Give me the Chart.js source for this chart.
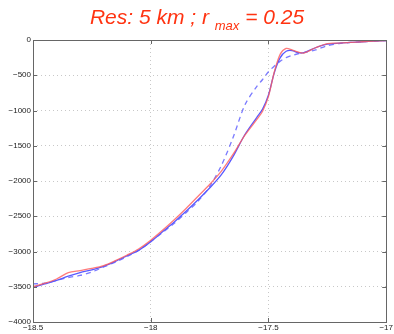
<!DOCTYPE html>
<html><head><meta charset="utf-8">
<script src="https://cdn.jsdelivr.net/npm/chart.js@4/dist/chart.umd.min.js"></script>
<style>
html,body{margin:0;padding:0;background:#fff;}
#wrap{position:relative;width:394px;height:334px;}
#title{position:absolute;left:0;top:4px;width:394px;text-align:center;font-family:"Liberation Sans",Arial,sans-serif;font-style:italic;font-size:21px;color:#ff3311;line-height:26px;}
#title sub{font-size:13px;vertical-align:-6px;}
canvas{position:absolute;left:0;top:0;}
</style></head>
<body><div id="wrap"><canvas id="c" width="394" height="334"></canvas><div id="title">Res: 5 km ; r <sub>max</sub> = 0.25</div></div>
<script>
const lon = [-18.5,-18.45,-18.4,-18.35,-18.3,-18.25,-18.2,-18.15,-18.1,-18.05,-18.0,-17.95,-17.9,-17.85,-17.8,-17.75,-17.7,-17.65,-17.6,-17.55,-17.525,-17.5,-17.475,-17.45,-17.425,-17.4,-17.375,-17.35,-17.3,-17.25,-17.2,-17.15,-17.1,-17.05,-17.0];
const redDepth = [-3500,-3450,-3390,-3300,-3270,-3240,-3200,-3130,-3050,-2960,-2840,-2700,-2550,-2390,-2220,-2050,-1860,-1620,-1350,-1130,-1010,-800,-450,-200,-120,-140,-170,-185,-110,-50,-45,-35,-25,-15,-8];
const blueDepth = [-3510,-3460,-3410,-3350,-3300,-3260,-3210,-3140,-3060,-2980,-2860,-2720,-2580,-2430,-2270,-2100,-1910,-1650,-1340,-1100,-980,-780,-460,-250,-160,-150,-180,-180,-110,-60,-45,-35,-25,-15,-8];
const dashDepth = [-3460,-3450,-3410,-3370,-3340,-3290,-3220,-3150,-3070,-2980,-2860,-2730,-2600,-2450,-2290,-2080,-1780,-1380,-920,-660,-560,-450,-370,-300,-250,-220,-195,-180,-140,-80,-50,-35,-25,-15,-8];
const xTicks = [-18.5,-18,-17.5,-17];
const yTicks = [0,-500,-1000,-1500,-2000,-2500,-3000,-3500,-4000];

const pts = arr => arr.map((v,i)=>({x:lon[i],y:v}));
const fmt = v => (v<0?'\u2212':'')+Math.abs(v);

const frame = {
  id:'frame',
  afterDraw(chart){
    const {ctx, chartArea:a, scales:{x,y}} = chart;
    ctx.save();
    ctx.strokeStyle='#666'; ctx.lineWidth=1;
    ctx.strokeRect(Math.round(a.left)+0.5, Math.round(a.top)+0.5, Math.round(a.right-a.left), Math.round(a.bottom-a.top));
    ctx.beginPath();
    xTicks.forEach(t=>{const px=Math.round(x.getPixelForValue(t))+0.5;
      ctx.moveTo(px,a.top);ctx.lineTo(px,a.top+4);ctx.moveTo(px,a.bottom);ctx.lineTo(px,a.bottom-4);});
    yTicks.forEach(t=>{const py=Math.round(y.getPixelForValue(t))+0.5;
      ctx.moveTo(a.left,py);ctx.lineTo(a.left+4,py);ctx.moveTo(a.right,py);ctx.lineTo(a.right-4,py);});
    ctx.stroke();
    ctx.restore();
  }
};

new Chart(document.getElementById('c'), {
  type:'line',
  data:{datasets:[
    {data:pts(redDepth), borderColor:'rgba(255,90,90,0.8)', borderWidth:1.3, pointRadius:0, tension:0.3, fill:false},
    {data:pts(dashDepth), borderColor:'rgba(90,90,255,0.8)', borderWidth:1.3, borderDash:[5,4], pointRadius:0, tension:0.3, fill:false},
    {data:pts(blueDepth), borderColor:'rgba(60,60,255,0.85)', borderWidth:1.3, pointRadius:0, tension:0.3, fill:false}
  ]},
  options:{
    responsive:false, animation:false, events:[],
    layout:{padding:{top:40,right:5,left:0,bottom:0}},
    plugins:{legend:{display:false},tooltip:{enabled:false}},
    scales:{
      x:{type:'linear',min:-18.5,max:-17,
        afterBuildTicks(s){s.ticks=xTicks.map(v=>({value:v}));},
        afterFit(s){s.height=12;},
        ticks:{callback:fmt,font:{family:'Liberation Sans, Arial',size:8},color:'#222',padding:1,maxRotation:0,autoSkip:false},
        grid:{color:'#c8c8c8',lineWidth:1,drawTicks:false,tickLength:0},
        border:{display:false,dash:[1,3]}},
      y:{type:'linear',min:-4000,max:0,
        afterBuildTicks(s){s.ticks=yTicks.map(v=>({value:v}));},
        afterFit(s){s.width=33;},
        ticks:{callback:fmt,font:{family:'Liberation Sans, Arial',size:8},color:'#222',padding:2,autoSkip:false},
        grid:{color:'#c8c8c8',lineWidth:1,drawTicks:false,tickLength:0},
        border:{display:false,dash:[1,3]}}
    }
  },
  plugins:[frame]
});
</script></body></html>
